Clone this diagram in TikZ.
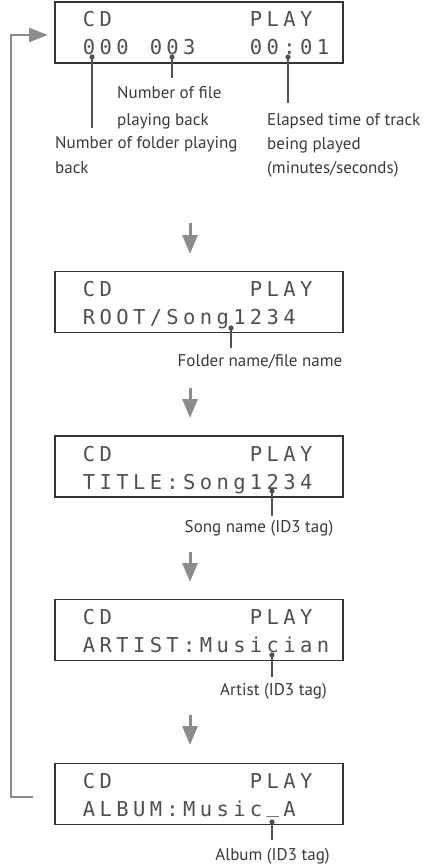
\documentclass[tikz,border=0pt]{standalone}
\usepackage{fontspec}
\setmainfont{PT Sans}
\newfontfamily\lcdfont{DejaVu Sans Mono}
\usetikzlibrary{arrows.meta}
\definecolor{boxline}{HTML}{333333}
\definecolor{lcdtext}{HTML}{505050}
\definecolor{flowgray}{HTML}{8C8C8C}
\definecolor{callgray}{HTML}{505050}
\definecolor{labeltext}{HTML}{3A3A3A}
\newcommand\lcdcells[1]{\lcdnext#1\relax}
\def\lcdnext#1{\ifx#1\relax\else\makebox[16.7pt][c]{#1}\expandafter\lcdnext\fi}
\newcommand\lcdunder{\raisebox{4pt}{\_}}
\begin{document}
\begin{tikzpicture}[x=1pt,y=-1pt,
  lcdbox/.style={draw=boxline,line width=1.4pt,minimum width=288pt,minimum height=61pt,inner sep=0pt},
  lcdrow/.style={anchor=base west,inner sep=0pt,text=lcdtext,font=\lcdfont\fontsize{20.5}{20.5}\selectfont},
  lbl/.style={inner sep=0pt,text=labeltext,align=left,anchor=base west},
  lblc/.style={inner sep=0pt,text=labeltext,anchor=base,font=\fontsize{17}{20}\selectfont},
  callout/.style={draw=callgray,line width=2.4pt},
  calldot/.style={fill=callgray},
  flow/.style={draw=flowgray,line width=3pt,-{Triangle[length=19pt,width=15pt]}},
  loopline/.style={draw=flowgray,line width=2.4pt,-{Triangle[length=19pt,width=14pt]}}
]
\path[use as bounding box] (0,0) rectangle (431,864);

% boxes
\node[lcdbox] (b1) at (199,32.5) {};
\node[lcdbox] (b2) at (199,302) {};
\node[lcdbox] (b3) at (199,466.5) {};
\node[lcdbox] (b4) at (199,630) {};
\node[lcdbox] (b5) at (199,794) {};

% lcd rows
\node[lcdrow] (b1r1) at (80.6,27) {\lcdcells{CD~~~~~~~~PLAY}};
\node[lcdrow] (b1r2) at (80.6,55) {\lcdcells{000~003~~~00:01}};
\node[lcdrow] (b2r1) at (80.6,296) {\lcdcells{CD~~~~~~~~PLAY}};
\node[lcdrow] (b2r2) at (80.6,324) {\lcdcells{ROOT/Song1234}};
\node[lcdrow] (b3r1) at (80.6,461) {\lcdcells{CD~~~~~~~~PLAY}};
\node[lcdrow] (b3r2) at (80.6,489) {\lcdcells{TITLE:Song1234}};
\node[lcdrow] (b4r1) at (80.6,624) {\lcdcells{CD~~~~~~~~PLAY}};
\node[lcdrow] (b4r2) at (80.6,652) {\lcdcells{ARTIST:Musician}};
\node[lcdrow] (b5r1) at (80.6,788) {\lcdcells{CD~~~~~~~~PLAY}};
\node[lcdrow] (b5r2) at (80.6,816) {\lcdcells{ALBUM:Music\lcdunder A}};

% labels (base anchor = baseline of the last line)
\node[lbl,font=\fontsize{17}{26.5}\selectfont] (lfile) at (117,125) {Number of file\\playing back};
\node[lbl,font=\fontsize{17}{25}\selectfont] (lfolder) at (55,173) {Number of folder playing\\back};
\node[lbl,font=\fontsize{17}{24}\selectfont] (lelapsed) at (267,173) {Elapsed time of track\\being played\\(minutes/seconds)};
\node[lblc] (lname) at (260,366) {Folder name/file name};
\node[lblc] (lsong) at (259,532) {Song name (ID3 tag)};
\node[lblc] (lartist) at (273.5,695) {Artist (ID3 tag)};
\node[lblc] (lalbum) at (272.5,860) {Album (ID3 tag)};

% callouts
\coordinate (d1a) at (92,57);   \coordinate (e1a) at (92,128);
\coordinate (d1b) at (172,57);  \coordinate (e1b) at (172,78);
\coordinate (d1c) at (288,57);  \coordinate (e1c) at (288,103);
\coordinate (d2) at (231,328);  \coordinate (e2) at (231,348);
\coordinate (d3) at (272,491);  \coordinate (e3) at (272,516);
\coordinate (d4) at (272,655);  \coordinate (e4) at (272,677);
\coordinate (d5) at (272,822);  \coordinate (e5) at (272,840);
\foreach \p in {1a,1b,1c,2,3,4,5}{
  \draw[callout] (d\p) -- (e\p);
  \fill[calldot] (d\p) circle (2.6pt);
}

% flow arrows
\coordinate (f1s) at (190,223); \coordinate (f1e) at (190,254);
\coordinate (f2s) at (190,388); \coordinate (f2e) at (190,418);
\coordinate (f3s) at (190,552); \coordinate (f3e) at (190,582);
\coordinate (f4s) at (190,715); \coordinate (f4e) at (190,745);
\foreach \i in {1,2,3,4}{\draw[flow] (f\i s) -- (f\i e);}

% loop back
\coordinate (ls) at (33,797);
\coordinate (le) at (48,35);
\draw[loopline] (ls) -- (11,797) -- (11,35) -- (le);
\end{tikzpicture}
\end{document}
